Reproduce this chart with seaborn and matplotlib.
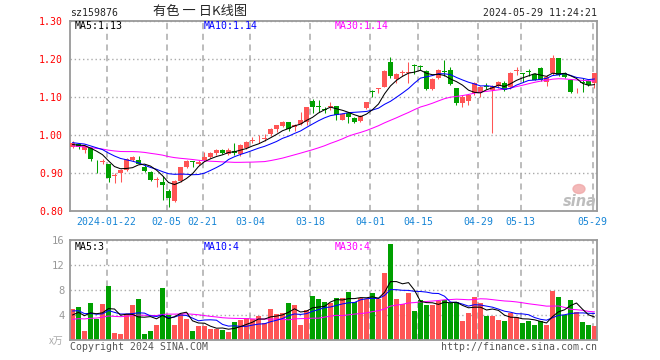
import matplotlib
matplotlib.use("Agg")
import matplotlib.pyplot as plt
from matplotlib.patches import Ellipse
import numpy as np
import pandas as pd
import seaborn as sns

# daily bars 2024-01-12 .. 2024-05-29, 88 sessions
open_ = [0.969, 0.976, 0.960, 0.965, 0.935, 0.929, 0.923, 0.893, 0.901, 0.908,
         0.934, 0.934, 0.917, 0.903, 0.882, 0.877, 0.853, 0.826, 0.879, 0.916,
         0.932, 0.924, 0.934, 0.943, 0.952, 0.961, 0.949, 0.957, 0.950, 0.966,
         0.984, 0.986, 0.989, 1.002, 1.017, 1.024, 1.035, 1.020, 1.029, 1.035,
         1.090, 1.077, 1.069, 1.073, 1.077, 1.040, 1.057, 1.046, 1.037, 1.070,
         1.116, 1.121, 1.127, 1.191, 1.147, 1.163, 1.163, 1.183, 1.182, 1.168,
         1.121, 1.149, 1.169, 1.171, 1.123, 1.085, 1.090, 1.110, 1.114, 1.128,
         1.118, 1.129, 1.138, 1.127, 1.169, 1.162, 1.169, 1.160, 1.175, 1.140,
         1.162, 1.202, 1.162, 1.145, 1.115, 1.140, 1.143, 1.136]
high = [0.985, 0.980, 0.973, 0.968, 0.935, 0.937, 0.925, 0.900, 0.910, 0.940,
        0.945, 0.945, 0.920, 0.905, 0.890, 0.892, 0.857, 0.882, 0.917, 0.933,
        0.932, 0.934, 0.956, 0.956, 0.964, 0.964, 0.965, 0.978, 0.976, 0.985,
        0.996, 1.000, 1.003, 1.018, 1.026, 1.037, 1.035, 1.030, 1.061, 1.075,
        1.094, 1.092, 1.075, 1.087, 1.077, 1.058, 1.060, 1.048, 1.053, 1.087,
        1.118, 1.123, 1.170, 1.204, 1.163, 1.172, 1.193, 1.188, 1.185, 1.172,
        1.150, 1.173, 1.197, 1.178, 1.125, 1.104, 1.108, 1.140, 1.130, 1.136,
        1.132, 1.143, 1.141, 1.167, 1.180, 1.164, 1.175, 1.162, 1.178, 1.158,
        1.210, 1.202, 1.165, 1.147, 1.123, 1.150, 1.145, 1.163]
low = [0.966, 0.964, 0.952, 0.932, 0.900, 0.924, 0.877, 0.873, 0.877, 0.905,
       0.931, 0.923, 0.903, 0.879, 0.864, 0.829, 0.810, 0.825, 0.877, 0.914,
       0.917, 0.920, 0.932, 0.940, 0.948, 0.950, 0.948, 0.947, 0.946, 0.964,
       0.980, 0.980, 0.984, 0.998, 1.009, 1.020, 1.011, 1.011, 1.026, 1.026,
       1.059, 1.061, 1.059, 1.066, 1.040, 1.039, 1.032, 1.031, 1.033, 1.068,
       1.100, 1.110, 1.126, 1.149, 1.138, 1.155, 1.136, 1.160, 1.170, 1.118,
       1.118, 1.147, 1.155, 1.132, 1.080, 1.075, 1.078, 1.105, 1.100, 1.120,
       1.006, 1.125, 1.115, 1.120, 1.158, 1.140, 1.155, 1.145, 1.143, 1.128,
       1.158, 1.155, 1.150, 1.110, 1.111, 1.114, 1.130, 1.123]
close = [0.978, 0.969, 0.971, 0.937, 0.933, 0.931, 0.888, 0.896, 0.908, 0.937,
         0.941, 0.925, 0.906, 0.882, 0.884, 0.868, 0.835, 0.879, 0.915, 0.931,
         0.930, 0.930, 0.943, 0.953, 0.961, 0.952, 0.961, 0.953, 0.974, 0.982,
         0.986, 0.988, 0.991, 1.016, 1.026, 1.035, 1.017, 1.026, 1.039, 1.075,
         1.075, 1.075, 1.067, 1.075, 1.053, 1.055, 1.048, 1.035, 1.050, 1.087,
         1.113, 1.123, 1.168, 1.155, 1.160, 1.166, 1.165, 1.181, 1.180, 1.120,
         1.147, 1.171, 1.165, 1.134, 1.085, 1.101, 1.105, 1.136, 1.127, 1.126,
         1.128, 1.140, 1.118, 1.162, 1.171, 1.160, 1.167, 1.146, 1.145, 1.153,
         1.202, 1.158, 1.153, 1.114, 1.117, 1.138, 1.132, 1.162]
# volume in 万
volume = [5.00, 5.30, 1.44, 5.90, 3.36, 5.76, 8.64, 1.12, 0.96, 4.16,
          5.60, 6.56, 0.96, 1.44, 2.40, 8.32, 4.00, 2.40, 4.16, 3.36,
          1.44, 2.24, 2.24, 1.76, 1.76, 1.60, 1.28, 2.88, 3.20, 3.52,
          3.36, 3.84, 2.80, 4.96, 4.16, 4.32, 5.92, 5.60, 2.40, 4.80,
          7.04, 6.56, 6.08, 5.92, 6.72, 6.72, 7.68, 6.08, 6.72, 6.56,
          7.52, 6.56, 10.72, 15.36, 6.56, 5.76, 7.52, 4.64, 6.40, 5.60,
          5.60, 6.24, 6.40, 5.92, 6.08, 3.04, 4.32, 6.88, 5.92, 3.84,
          3.84, 3.20, 3.04, 4.32, 3.68, 2.72, 3.04, 2.40, 3.04, 2.40,
          7.84, 6.88, 4.00, 6.40, 4.48, 2.88, 2.40, 2.24]

# 29 sessions before the window, only used to seed the moving averages
prior_close = [1.010, 1.005, 0.998, 0.990, 0.985, 0.975, 0.960, 0.950, 0.945, 0.940,
               0.945, 0.950, 0.955, 0.950, 0.945, 0.950, 0.960, 0.970, 0.975, 0.980,
               0.990, 0.988, 0.985, 0.982, 0.980, 0.978, 0.975, 0.972, 0.972]
prior_volume = [2.0, 2.5, 3.0, 2.2, 1.8, 2.6, 3.1, 2.4, 2.0, 2.8,
                3.3, 2.5, 2.1, 2.9, 3.0, 2.4, 2.6, 3.2, 2.7, 3.5,
                4.8, 6.2, 5.5, 4.6, 5.3, 3.2, 4.1, 3.6, 4.1]

tick_days = [6, 16, 22, 30, 40, 50, 58, 68, 75, 87]
tick_labels = ["2024-01-22", "02-05", "02-21", "03-04", "03-18",
               "04-01", "04-15", "04-29", "05-13", "05-29"]
price_ticks = [0.80, 0.90, 1.00, 1.10, 1.20, 1.30]
vol_ticks = [4, 8, 12, 16]

RED = "#ff5555"
GREEN = "#00a000"
GRID = "#aaaaaa"
FRAME = "#999999"
BLUE_TXT = "#1685d6"
LW = 0.75

n = len(close)
idx = np.arange(n)
o = np.array(open_)
c = np.array(close)
up = c >= o
colors = np.where(up, RED, GREEN)
direction = np.where(up, "up", "down")

npre = len(prior_close)
ma_c = pd.Series(prior_close + close)
ma_v = pd.Series(prior_volume + volume)
ma5 = ma_c.rolling(5).mean().to_numpy()[npre:]
ma10 = ma_c.rolling(10).mean().to_numpy()[npre:]
ma30 = ma_c.rolling(30).mean().to_numpy()[npre:]
vma5 = ma_v.rolling(5).mean().to_numpy()[npre:]
vma10 = ma_v.rolling(10).mean().to_numpy()[npre:]
vma30 = ma_v.rolling(30).mean().to_numpy()[npre:]

sns.set_style("white")
plt.rcParams["font.family"] = ["DejaVu Sans Mono", "DejaVu Sans"]
FS = 7.1

W, H = 660, 360
fig = plt.figure(figsize=(6.6, 3.6), dpi=100)
ax1 = fig.add_axes([70 / W, 1 - 211 / H, 527 / W, 190 / H])
ax2 = fig.add_axes([70 / W, 1 - 340 / H, 527 / W, 100 / H])

xlim = (-2.5 / 6, n - 1 + 2.5 / 6)
vx = [d - 1 / 3 for d in tick_days]

# candles
body_lo = np.minimum(o, c)
body_h = np.maximum(np.abs(c - o), 0.0012)
ax1.vlines(idx, low, high, colors=colors, lw=LW, zorder=2)
ax1.bar(idx, body_h, bottom=body_lo, width=5 / 6, color=colors, linewidth=0, zorder=3)
sns.lineplot(x=idx, y=ma30, ax=ax1, color="#ff00ff", lw=LW, zorder=4)
sns.lineplot(x=idx, y=ma10, ax=ax1, color="#0000ff", lw=LW, zorder=5)
sns.lineplot(x=idx, y=ma5, ax=ax1, color="black", lw=LW, zorder=6)

# volume
sns.barplot(x=idx, y=volume, hue=direction, palette={"up": RED, "down": GREEN},
            native_scale=True, dodge=False, saturation=1, errorbar=None,
            width=5 / 6, legend=False, linewidth=0, ax=ax2)
sns.lineplot(x=idx, y=vma30, ax=ax2, color="#ff00ff", lw=LW, zorder=4)
sns.lineplot(x=idx, y=vma10, ax=ax2, color="#0000ff", lw=LW, zorder=5)
sns.lineplot(x=idx, y=vma5, ax=ax2, color="black", lw=LW, zorder=6)

for ax in (ax1, ax2):
    ax.set_xlim(*xlim)
    ax.set_xlabel("")
    ax.set_ylabel("")
    ax.set_xticks(vx)
    for s in ax.spines.values():
        s.set_color(FRAME)
        s.set_linewidth(1.3)
        s.set_visible(True)
    ax.grid(axis="x", color=GRID, ls=(0, (4, 3)), lw=1.1)
    ax.grid(axis="y", color=GRID, ls=(0, (1, 2)), lw=1.0)
    ax.set_axisbelow(True)
    ax.tick_params(length=0, labelsize=FS)

ax1.set_ylim(0.80, 1.30)
ax1.set_yticks(price_ticks)
ax1.set_yticklabels([f"{p:.2f}" for p in price_ticks])
ax1.set_xticklabels(tick_labels)
ax1.tick_params(axis="y", pad=5, labelcolor="red")
ax1.tick_params(axis="x", pad=4, labelcolor=BLUE_TXT)

ax2.set_ylim(0, 16)
ax2.set_yticks(vol_ticks)
ax2.set_yticklabels([str(v) for v in vol_ticks])
ax2.tick_params(axis="y", pad=4, labelcolor="#999999", labelsize=7.6)
ax2.tick_params(axis="x", labelbottom=False)


def ftext(px, py, s, **kw):
    kw.setdefault("fontsize", FS)
    kw.setdefault("va", "center")
    fig.text(px / W, 1 - py / H, s, **kw)


ftext(70, 13, "sz159876")
ftext(200, 12, "有色 一 日K线图", ha="center", fontsize=9.5,
      family=["Noto Sans CJK SC", "DejaVu Sans"])
ftext(597, 13, "2024-05-29 11:24:21", ha="right")

ftext(75, 26, "MA5:1.13", color="black")
ftext(204, 26, "MA10:1.14", color="#0000ff")
ftext(335, 26, "MA30:1.14", color="#ff00ff")

ftext(75, 247, "MA5:3", color="black")
ftext(204, 247, "MA10:4", color="#0000ff")
ftext(335, 247, "MA30:4", color="#ff00ff")

ftext(64, 341, "x万", ha="right", color="#aaaaaa", style="italic",
      family=["Noto Sans CJK SC", "DejaVu Sans"])
ftext(70, 347, "Copyright 2024 SINA.COM", color="#555555")
ftext(597, 347, "http://finance.sina.com.cn", ha="right", color="#555555")

# sina watermark
fig.add_artist(Ellipse((579 / W, 1 - 189 / H), 12 / W, 9 / H,
                       transform=fig.transFigure, color="#f0a8a8", alpha=0.8))
ftext(580, 201, "sina", ha="center", fontsize=10.5, style="italic", weight="bold",
      color="#bdbdbd", family="DejaVu Sans")

fig.savefig("out.png", dpi=100)
